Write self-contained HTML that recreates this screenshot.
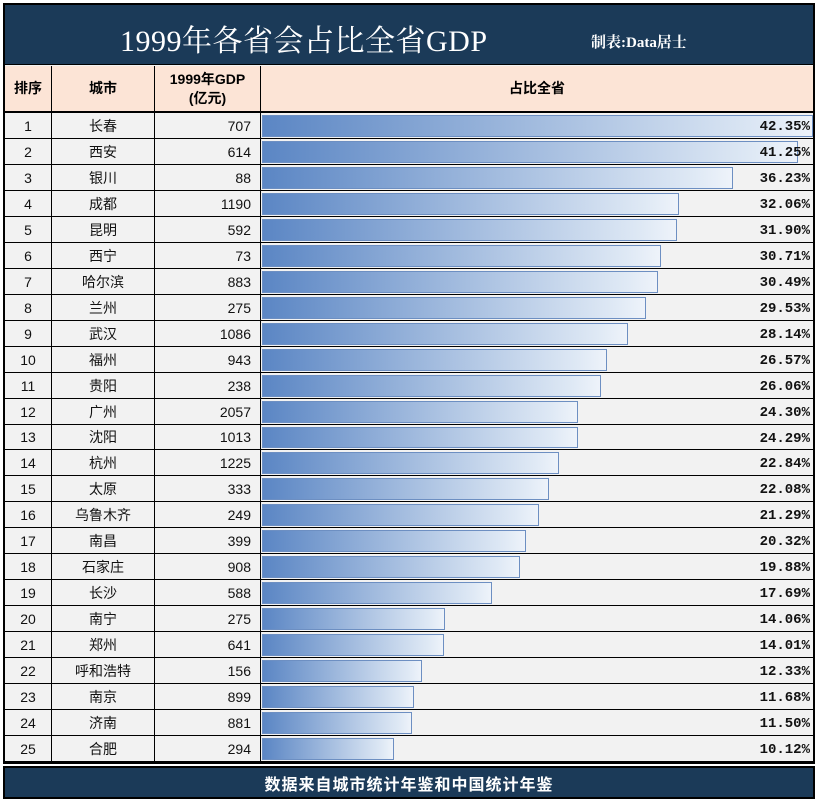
<!DOCTYPE html>
<html><head><meta charset="utf-8">
<style>
*{margin:0;padding:0;box-sizing:border-box}
body{width:817px;height:801px;background:#fff;position:relative;overflow:hidden;font-family:"Liberation Sans","Noto Sans CJK SC",sans-serif}
.a{position:absolute}
.title{left:3px;top:3px;width:812px;height:63px;background:#1b3a58;border:2px solid #000;}
.hdr{background:#fce4d6;border-right:1px solid #000;border-bottom:2px solid #000;display:flex;align-items:center;justify-content:center;font-weight:bold;font-size:14px;color:#000;text-align:center;line-height:19px}
.cell{background:#f2f2f2;border-right:1px solid #000;border-bottom:1px solid #000;font-size:14px;color:#111;display:flex;align-items:center}
.bar{background:linear-gradient(90deg,#5b86c4,#dfe9f5 92%,#eef3fa);border:1px solid #6d8fc2}
.pct{font-family:"Liberation Mono","Noto Sans CJK SC",monospace;font-weight:bold;font-size:14px;color:#111;display:flex;align-items:center;justify-content:flex-end}
</style></head><body>
<div class="a title"></div>
<div class="a" style="left:120px;top:16px;font-family:'Liberation Serif','Noto Serif CJK SC',serif;font-size:30px;color:#fff;letter-spacing:0.5px;white-space:nowrap">1999年各省会占比全省GDP</div>
<div class="a" style="left:591px;top:31px;font-family:'Liberation Serif','Noto Serif CJK SC',serif;font-weight:bold;font-size:15px;color:#fff;white-space:nowrap">制表:Data居士</div>
<div class="a" style="left:3px;top:65px;width:812px;height:699px;border:2px solid #000;border-top:none;background:#f2f2f2"></div>
<div class="a hdr" style="left:5px;top:66px;width:47px;height:47px">排序</div>
<div class="a hdr" style="left:52px;top:66px;width:103px;height:47px">城市</div>
<div class="a hdr" style="left:155px;top:66px;width:106px;height:47px">1999年GDP<br>(亿元)</div>
<div class="a hdr" style="left:261px;top:66px;width:552px;height:47px;border-right:none">占比全省</div>
<div id="rows"></div>
<div class="a" style="left:3px;top:766px;width:812px;height:33px;background:#1b3a58;border:2px solid #000;color:#fff;font-weight:bold;font-size:16px;display:flex;align-items:center;justify-content:center;letter-spacing:1px">数据来自城市统计年鉴和中国统计年鉴</div>
<script>
const cities=["长春","西安","银川","成都","昆明","西宁","哈尔滨","兰州","武汉","福州","贵阳","广州","沈阳","杭州","太原","乌鲁木齐","南昌","石家庄","长沙","南宁","郑州","呼和浩特","南京","济南","合肥"];
const gdp=[707,614,88,1190,592,73,883,275,1086,943,238,2057,1013,1225,333,249,399,908,588,275,641,156,899,881,294];
const share=[42.35,41.25,36.23,32.06,31.90,30.71,30.49,29.53,28.14,26.57,26.06,24.30,24.29,22.84,22.08,21.29,20.32,19.88,17.69,14.06,14.01,12.33,11.68,11.50,10.12];
const rowTop=113,rowH=25.96,barX=262,pxPerPct=13.0,barMax=551;
const xScale=v=>Math.min(v*pxPerPct,barMax);
const host=document.getElementById('rows');
cities.forEach((c,i)=>{
  const y=Math.round(rowTop+i*rowH), h=Math.round(rowTop+(i+1)*rowH)-y;
  const mk=(cls,l,w,txt,just)=>{const d=document.createElement('div');d.className='a '+cls;d.style.cssText=`left:${l}px;top:${y}px;width:${w}px;height:${h}px;justify-content:${just};`+(just==='flex-end'?'padding-right:9px;':'');d.textContent=txt;host.appendChild(d);return d;};
  const r=mk('cell',5,47,String(i+1),'center');
  
  
  const cc=mk('cell',52,103,c,'center');
  
  
  const g=mk('cell',155,106,String(gdp[i]),'flex-end');
  
  
  const s=mk('cell',261,552,'','flex-start');
  s.style.borderRight='none';
  
  
  const b=document.createElement('div');
  b.className='a bar';
  b.style.cssText=`left:${barX}px;top:${y+2}px;width:${xScale(share[i])}px;height:${h-4}px`;
  
  
  host.appendChild(b);
  const p=document.createElement('div');
  p.className='a pct';
  p.style.cssText=`left:600px;width:210px;top:${y+1}px;height:${h}px`;
  p.textContent=share[i].toFixed(2)+'%';
  
  
  host.appendChild(p);
});
</script>
</body></html>
